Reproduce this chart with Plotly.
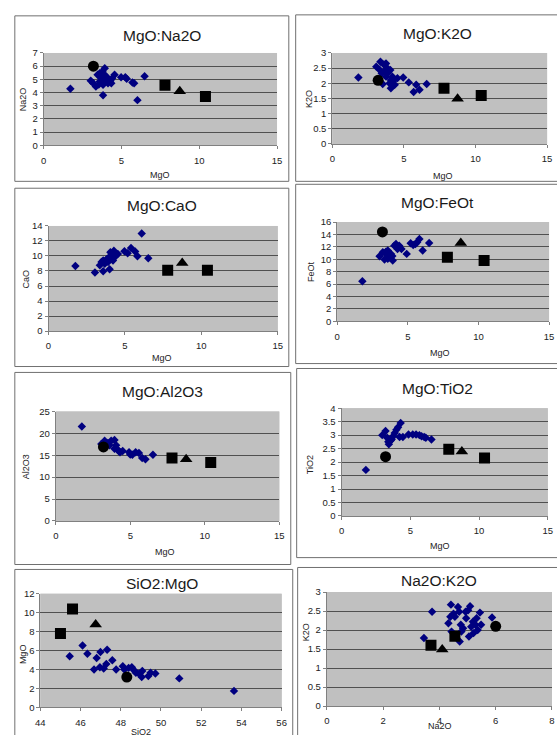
import plotly.graph_objects as go

W, H = 557, 735

# ---- reference samples (black symbols) ----
REF_SYMBOLS = ["circle", "square", "triangle-up", "square"]
REF_MGO = [3.2, 7.8, 8.75, 10.4]
REF_NA2O = [6.0, 4.55, 4.1, 3.7]
REF_K2O = [2.1, 1.84, 1.49, 1.6]
REF_CAO = [None, 8.1, 9.05, 8.1]
REF_FEOT = [14.4, 10.3, 12.6, 9.8]
REF_AL2O3 = [16.9, 14.35, 14.1, 13.35]
REF_TIO2 = [2.2, 2.48, 2.39, 2.15]
REF_SIO2 = [48.3, 45.0, 46.75, 45.6]

# ---- sample data (blue diamonds), per panel ----
NA_MGO = [1.72, 3.82, 6.03, 6.49, 4.56, 3.93, 4.98, 5.25, 5.34, 5.71, 5.82, 3.03, 3.19, 3.36,
          3.47, 3.61, 3.72, 3.82, 3.93, 4.03, 4.14, 4.2, 4.29, 4.35, 4.41, 3.61, 3.78, 3.55, 4.1, 3.9]
NA_NA2O = [4.29, 3.79, 3.42, 5.24, 5.34, 5.84, 5.16, 5.16, 5.04, 4.76, 4.71, 4.89, 4.71, 4.46,
           5.34, 4.84, 5.09, 4.59, 4.96, 5.21, 4.71, 4.96, 4.89, 4.71, 5.09, 5.46, 5.59, 4.6, 5.0, 5.35]

K_MGO = [1.82, 3.07, 3.36, 3.6, 3.75, 3.86, 4.05, 3.45, 3.52, 3.75, 4.09, 4.2, 4.27, 4.36, 4.55,
         4.95, 5.34, 5.68, 5.86, 6.09, 6.59, 4.09, 3.3, 3.9, 4.0, 3.65]
K_K2O = [2.19, 2.55, 2.71, 2.62, 2.65, 2.49, 2.44, 2.33, 1.98, 2.22, 1.84, 2.22, 2.08, 1.95, 2.17,
         2.19, 2.03, 1.71, 1.95, 1.79, 1.98, 2.11, 2.45, 2.35, 2.0, 2.4]

CA_MGO = [1.76, 3.04, 3.58, 4.0, 3.36, 3.47, 3.58, 3.68, 3.79, 3.96, 4.05, 4.18, 4.28, 4.39, 4.54,
          4.22, 4.97, 5.18, 5.4, 5.67, 5.82, 6.1, 6.53, 3.9, 4.1, 3.7]
CA_CAO = [8.66, 7.79, 7.96, 8.22, 8.75, 9.19, 9.4, 8.97, 9.54, 9.84, 10.5, 10.15, 10.7, 9.97, 10.28,
          9.4, 10.63, 10.37, 11.07, 10.59, 9.97, 12.99, 9.71, 9.2, 9.9, 9.3]

FE_MGO = [1.78, 3.0, 3.23, 3.35, 3.46, 3.58, 3.7, 3.81, 3.93, 4.04, 4.16, 4.27, 4.39, 4.55, 4.92,
          5.2, 5.38, 5.54, 5.66, 5.82, 6.05, 6.51, 3.58, 3.45, 3.9]
FE_FEOT = [6.46, 10.49, 11.13, 9.96, 10.86, 11.39, 10.33, 10.86, 9.8, 12.19, 12.45, 11.66, 12.19,
           11.66, 10.86, 12.56, 12.29, 12.45, 12.72, 13.25, 11.39, 12.61, 10.07, 11.2, 10.5]

AL_MGO = [1.75, 3.06, 3.28, 3.5, 3.72, 3.94, 4.05, 4.16, 4.31, 4.49, 4.92, 5.14, 5.36, 5.58, 5.8,
          6.02, 6.52, 3.61, 3.94, 4.25, 3.4, 5.0]
AL_AL2O3 = [21.6, 17.6, 18.3, 17.8, 18.3, 18.5, 17.3, 16.2, 15.7, 16.0, 15.7, 15.1, 15.7, 15.5, 14.4,
            14.1, 15.1, 17.3, 16.5, 15.9, 17.1, 15.2]

TI_MGO = [1.77, 2.96, 3.2, 3.32, 3.44, 3.58, 3.75, 3.87, 3.99, 4.11, 4.3, 4.46, 4.87, 5.18, 5.42,
          5.66, 5.82, 6.01, 6.13, 6.54, 3.5, 4.22, 3.4, 3.65]
TI_TIO2 = [1.71, 3.0, 3.15, 2.9, 2.66, 2.8, 2.96, 3.08, 3.2, 3.29, 3.45, 2.93, 3.02, 3.02, 3.02,
           3.0, 2.96, 2.93, 2.9, 2.84, 2.78, 2.93, 2.75, 2.85]

SI_SIO2 = [45.46, 46.1, 46.34, 46.67, 46.8, 46.99, 46.96, 47.15, 47.28, 47.32, 47.58, 47.77, 48.1,
           48.18, 48.39, 48.55, 48.67, 48.75, 48.91, 49.04, 49.07, 49.37, 49.48, 49.72, 50.91, 53.63]
SI_MGO = [5.39, 6.54, 5.67, 4.0, 5.22, 5.84, 4.24, 4.1, 4.59, 6.09, 4.97, 4.0, 4.35, 4.0, 4.17,
          4.24, 3.9, 3.65, 3.55, 3.2, 3.83, 3.3, 3.65, 3.58, 3.06, 1.74]

NK_NA2O = [3.45, 3.74, 4.32, 4.39, 4.41, 4.5, 4.55, 4.66, 4.7, 4.72, 4.76, 4.78, 4.84, 4.93, 4.95,
           5.02, 5.05, 5.09, 5.13, 5.19, 5.21, 5.28, 5.32, 5.36, 5.44, 5.48, 5.87, 4.43]
NK_K2O = [1.79, 2.48, 2.18, 2.35, 2.67, 2.43, 2.35, 2.61, 2.48, 1.7, 2.14, 1.96, 2.05, 2.48, 2.31,
          2.52, 1.83, 2.63, 2.09, 2.22, 1.92, 2.14, 2.31, 2.0, 2.46, 2.14, 2.33, 1.96]

# ---- panel layout (pixel geometry) ----
panels = [
    dict(title="MgO:Na2O", xt="MgO", yt="Na2O", xs=NA_MGO, ys=NA_NA2O, rx=REF_MGO, ry=REF_NA2O,
         xr=[0, 15], xd=5, yr=[0, 7], yd=1,
         plot=(39.3, 277, 47.7, 141.3), frame=(10, 289, 10, 178),
         tpos=(160, 30), xtpos=(158, 172), ytpos=(18, 95)),
    dict(title="MgO:K2O", xt="MgO", yt="K2O", xs=K_MGO, ys=K_K2O, rx=REF_MGO, ry=REF_K2O,
         xr=[0, 15], xd=5, yr=[0, 3], yd=0.5,
         plot=(333.3, 552, 47.7, 140), frame=(296, 600, 9, 178),
         tpos=(440, 28), xtpos=(446, 172.5), ytpos=(309, 94)),
    dict(title="MgO:CaO", xt="MgO", yt="CaO", xs=CA_MGO, ys=CA_CAO, rx=REF_MGO, ry=REF_CAO,
         xr=[0, 15], xd=5, yr=[0, 14], yd=2,
         plot=(44.3, 277.7, 223.3, 330), frame=(10, 289, 185, 366),
         tpos=(160, 202.7), xtpos=(160, 357), ytpos=(21, 277)),
    dict(title="MgO:FeOt", xt="MgO", yt="FeOt", xs=FE_MGO, ys=FE_FEOT, rx=REF_MGO, ry=REF_FEOT,
         xr=[0, 15], xd=5, yr=[0, 16], yd=2,
         plot=(338.3, 554, 219.3, 320), frame=(296, 600, 181, 363),
         tpos=(440, 199), xtpos=(443, 352.7), ytpos=(311.7, 270)),
    dict(title="MgO:Al2O3", xt="MgO", yt="Al2O3", xs=AL_MGO, ys=AL_AL2O3, rx=REF_MGO, ry=REF_AL2O3,
         xr=[0, 15], xd=5, yr=[0, 25], yd=5,
         plot=(51.7, 279.3, 411.7, 522.7), frame=(10, 291, 372, 567),
         tpos=(160, 391), xtpos=(163, 554), ytpos=(21.7, 468)),
    dict(title="MgO:TiO2", xt="MgO", yt="TiO2", xs=TI_MGO, ys=TI_TIO2, rx=REF_MGO, ry=REF_TIO2,
         xr=[0, 15], xd=5, yr=[0, 4], yd=0.5,
         plot=(342.7, 552.7, 408.3, 517.7), frame=(297, 600, 368, 560),
         tpos=(440, 388), xtpos=(443, 548), ytpos=(310.7, 466)),
    dict(title="SiO2:MgO", xt="SiO2", yt="MgO", xs=SI_SIO2, ys=SI_MGO, rx=REF_SIO2, ry=REF_MGO,
         xr=[44, 56], xd=2, yr=[0, 12], yd=2,
         plot=(36, 281.7, 596.7, 712), frame=(10, 293, 572, 760),
         tpos=(160, 586.7), xtpos=(138, 737), ytpos=(18.3, 658)),
    dict(title="Na2O:K2O", xt="Na2O", yt="K2O", xs=NK_NA2O, ys=NK_K2O, rx=REF_NA2O, ry=REF_K2O,
         xr=[0, 8], xd=2, yr=[0, 3], yd=0.5,
         plot=(327.7, 557, 595, 710.7), frame=(298, 600, 570, 760),
         tpos=(441.7, 583.3), xtpos=(442.7, 731), ytpos=(307.3, 636)),
]

FONT = "Arial, Liberation Sans, sans-serif"
fig = go.Figure()
shapes, annotations = [], []

def px(x):
    return x / W

def py(y):
    return 1 - y / H

for i, p in enumerate(panels, start=1):
    xa = "x" if i == 1 else f"x{i}"
    ya = "y" if i == 1 else f"y{i}"
    x0, x1, y0, y1 = p["plot"]
    fig.add_trace(go.Scatter(x=p["xs"], y=p["ys"], mode="markers", xaxis=xa, yaxis=ya,
                             marker=dict(symbol="diamond", size=6.5, color="#000080"),
                             showlegend=False, hoverinfo="x+y"))
    fig.add_trace(go.Scatter(x=p["rx"], y=p["ry"], mode="markers", xaxis=xa, yaxis=ya,
                             marker=dict(symbol=REF_SYMBOLS, size=11, color="#000000"),
                             showlegend=False, hoverinfo="x+y"))
    axcommon = dict(showline=True, linecolor="#808080", linewidth=1, ticks="outside",
                    ticklen=3, tickcolor="#808080", tickfont=dict(family=FONT, size=9.5, color="#222"),
                    zeroline=False, fixedrange=True)
    fig.update_layout({
        ("xaxis" if i == 1 else f"xaxis{i}"): dict(
            domain=[px(x0), px(x1)], range=p["xr"], dtick=p["xd"], tick0=p["xr"][0],
            showgrid=False, anchor=ya, ticklabelstandoff=3, **axcommon),
        ("yaxis" if i == 1 else f"yaxis{i}"): dict(
            domain=[py(y1), py(y0)], range=p["yr"], dtick=p["yd"], tick0=0,
            showgrid=True, gridcolor="#505050", gridwidth=1, anchor=xa, **axcommon),
    })
    shapes.append(dict(type="rect", xref="paper", yref="paper", layer="below",
                       x0=px(x0), x1=px(x1), y0=py(y1), y1=py(y0),
                       fillcolor="#c0c0c0", line=dict(width=0)))
    fx0, fx1, fy0, fy1 = p["frame"]
    shapes.append(dict(type="rect", xref="paper", yref="paper",
                       x0=px(fx0), x1=px(fx1), y0=py(fy1), y1=py(fy0),
                       line=dict(color="#707070", width=1)))
    tx, ty = p["tpos"]
    annotations.append(dict(text=p["title"], x=px(tx), y=py(ty), xref="paper", yref="paper",
                            showarrow=False, xanchor="center", yanchor="middle",
                            font=dict(family=FONT, size=15.5, color="#1a1a1a")))
    ax_, ay_ = p["xtpos"]
    annotations.append(dict(text=p["xt"], x=px(ax_), y=py(ay_), xref="paper", yref="paper",
                            showarrow=False, xanchor="center", yanchor="middle",
                            font=dict(family=FONT, size=9, color="#222")))
    bx, by = p["ytpos"]
    annotations.append(dict(text=p["yt"], x=px(bx), y=py(by), xref="paper", yref="paper",
                            showarrow=False, xanchor="center", yanchor="middle", textangle=-90,
                            font=dict(family=FONT, size=9, color="#222")))

fig.update_layout(width=W, height=H, margin=dict(l=0, r=0, t=0, b=0),
                  paper_bgcolor="white", plot_bgcolor="#c0c0c0",
                  shapes=shapes, annotations=annotations, hovermode="closest")

fig.write_html("out.html", config={"displayModeBar": False},
               post_script="document.body.style.margin='0';document.body.style.overflow='hidden';")
